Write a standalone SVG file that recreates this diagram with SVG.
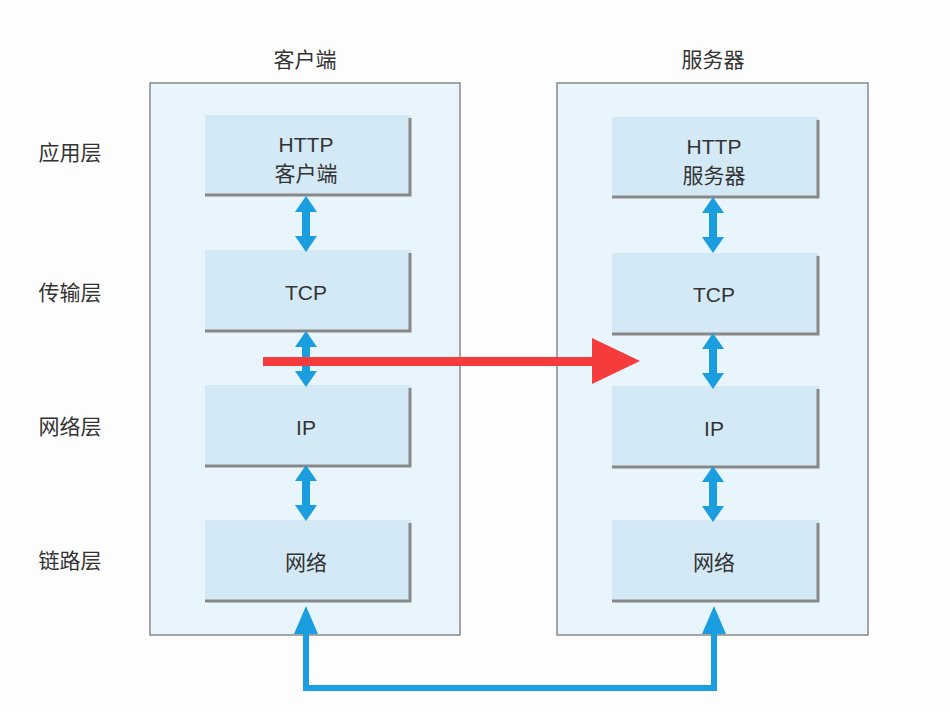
<svg xmlns="http://www.w3.org/2000/svg" width="950" height="712" viewBox="0 0 950 712">
<defs>
<style>
text{font-family:"Liberation Sans","Noto Sans CJK SC",sans-serif;font-size:21px;fill:#333;text-anchor:middle}
.cont{fill:#e8f5fc;stroke:#888;stroke-width:1.5}
.box{fill:#d3eaf6}
.sh{fill:none;stroke:#888;stroke-width:3}
.da{fill:#1a9ee0}
</style>
<g id="da"><polygon class="da" points="0,-28 -11,-12 -4,-12 -4,12 -11,12 0,28 11,12 4,12 4,-12 11,-12"/></g>
</defs>
<rect width="950" height="712" fill="#fdfdfd"/>
<g id="labels">
<text x="70" y="160">应用层</text>
<text x="70" y="300">传输层</text>
<text x="70" y="434">网络层</text>
<text x="70" y="568">链路层</text>
<text x="305" y="67">客户端</text>
<text x="713" y="67">服务器</text>
</g>
<g id="client"><rect class="cont" x="150" y="83" width="310" height="552"/></g>
<g id="server"><rect class="cont" x="557" y="83" width="311" height="552"/></g>
<g id="c-http"><rect class="box" x="205" y="115" width="206" height="80"/><path class="sh" d="M410,118V195H205"/><text x="306" y="152">HTTP</text><text x="306" y="181">客户端</text></g>
<g id="c-tcp"><rect class="box" x="205" y="250" width="206" height="81"/><path class="sh" d="M410,253V331H205"/><text x="306" y="300">TCP</text></g>
<g id="c-ip"><rect class="box" x="205" y="385" width="206" height="81"/><path class="sh" d="M410,388V466H205"/><text x="306" y="435">IP</text></g>
<g id="c-net"><rect class="box" x="205" y="520" width="206" height="81"/><path class="sh" d="M410,523V601H205"/><text x="306" y="570">网络</text></g>
<g id="s-http"><rect class="box" x="612" y="117" width="207" height="80"/><path class="sh" d="M818,120V197H612"/><text x="714" y="154">HTTP</text><text x="714" y="183">服务器</text></g>
<g id="s-tcp"><rect class="box" x="612" y="253" width="207" height="81"/><path class="sh" d="M818,256V334H612"/><text x="714" y="302">TCP</text></g>
<g id="s-ip"><rect class="box" x="612" y="386" width="207" height="81"/><path class="sh" d="M818,389V467H612"/><text x="714" y="436">IP</text></g>
<g id="s-net"><rect class="box" x="612" y="520" width="207" height="81"/><path class="sh" d="M818,523V601H612"/><text x="714" y="570">网络</text></g>
<g id="connectors">
<use href="#da" x="306" y="224"/>
<use href="#da" x="306" y="359"/>
<use href="#da" x="306" y="493"/>
<use href="#da" x="713" y="225"/>
<use href="#da" x="713" y="361"/>
<use href="#da" x="713" y="494"/>
<path d="M306,632V688H714V632" fill="none" stroke="#1a9ee0" stroke-width="6"/>
<polygon class="da" points="306,606 294,634 318,634"/>
<polygon class="da" points="714,606 702,634 726,634"/>
<rect x="263" y="357" width="332" height="9" fill="#f53b3b"/>
<polygon points="592,338 640,361 592,384" fill="#f53b3b"/>
</g>
</svg>
